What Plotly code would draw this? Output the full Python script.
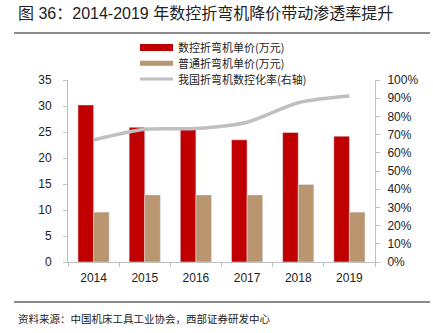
import plotly.graph_objects as go

years = ["2014", "2015", "2016", "2017", "2018", "2019"]
cnc_price = [30.2, 25.9, 25.6, 23.5, 24.9, 24.2]
normal_price = [9.6, 12.9, 12.9, 12.9, 14.9, 9.6]
cnc_rate = [0.67, 0.729, 0.733, 0.768, 0.875, 0.912]

legend_names = ["数控折弯机单价(万元)", "普通折弯机单价(万元)", "我国折弯机数控化率(右轴)"]
title_text = "图 36：2014-2019 年数控折弯机降价带动渗透率提升"
source_text = "资料来源：中国机床工具工业协会，西部证券研发中心"

RED = "#C00000"
TAN = "#B9966F"
GRAY = "#BFBFBF"
FONT = "Liberation Sans, Arial, Noto Sans CJK SC"

W, H = 433, 333
L, R, T, B = 68, 375, 80, 262


def px(x):
    return (x - L) / (R - L)


def py(y):
    return (B - y) / (B - T)


fig = go.Figure()
fig.add_trace(go.Bar(x=years, y=cnc_price, marker_color=RED, name=legend_names[0]))
fig.add_trace(go.Bar(x=years, y=normal_price, marker_color=TAN, name=legend_names[1]))
fig.add_trace(go.Scatter(x=years, y=cnc_rate, yaxis="y2", mode="lines",
                         line=dict(color=GRAY, width=3.5, shape="spline", smoothing=0.8),
                         name=legend_names[2]))

shapes = []
annotations = []
# legend
rows = [(47.5, RED, 7), (63.3, TAN, 5), (79.0, GRAY, 3)]
for (yc, col, th), name in zip(rows, legend_names):
    shapes.append(dict(type="rect", xref="paper", yref="paper",
                       x0=px(140), x1=px(173), y0=py(yc + th / 2), y1=py(yc - th / 2),
                       fillcolor=col, line=dict(width=0)))
    annotations.append(dict(text=name, xref="paper", yref="paper", x=px(176), y=py(yc),
                            xanchor="left", yanchor="middle", showarrow=False,
                            font=dict(family="Noto Sans CJK SC", size=11, color="#222")))

# title and separator lines
annotations.append(dict(text=title_text, xref="paper", yref="paper", x=px(16), y=py(14),
                        xanchor="left", yanchor="middle", showarrow=False,
                        font=dict(family=FONT, size=16, color="#222")))
annotations.append(dict(text=source_text, xref="paper", yref="paper", x=px(16), y=py(318),
                        xanchor="left", yanchor="middle", showarrow=False,
                        font=dict(family="Noto Sans CJK SC", size=10.5, color="#222")))
for yl in (33, 302):
    shapes.append(dict(type="line", xref="paper", yref="paper", x0=px(14), x1=px(430),
                       y0=py(yl), y1=py(yl), line=dict(color="#8C8C8C", width=2)))

axis_common = dict(showgrid=False, zeroline=False, showline=True, linecolor="#BFBFBF",
                   linewidth=1, ticks="outside", ticklen=4, tickcolor="#BFBFBF",
                   tickfont=dict(family=FONT, size=12, color="#222"))

fig.update_layout(
    width=W, height=H,
    margin=dict(l=L, r=W - R, t=T, b=H - B, pad=0),
    paper_bgcolor="white", plot_bgcolor="white",
    showlegend=False,
    barmode="group", bargap=0.39, bargroupgap=0,
    xaxis=dict(**axis_common, tickson="boundaries", ticklabelstandoff=5),
    yaxis=dict(**axis_common, range=[0, 35], dtick=5, ticklabelstandoff=9),
    yaxis2=dict(**axis_common, range=[0, 1], dtick=0.1, tickformat=".0%",
                overlaying="y", side="right", ticklabelstandoff=5),
    shapes=shapes, annotations=annotations,
)

fig.write_html("out.html")
